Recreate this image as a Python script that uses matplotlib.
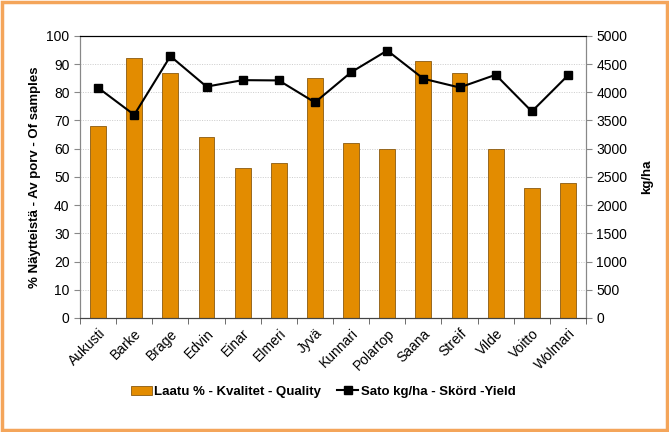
import numpy as np
import matplotlib.pyplot as plt
from matplotlib.patches import Rectangle

plt.rcParams['font.family'] = ['Liberation Sans', 'DejaVu Sans']

lajikkeet = ["Aukusti", "Barke", "Brage", "Edvin", "Einar", "Elmeri", "Jyvä",
             "Kunnari", "Polartop", "Saana", "Streif", "Vilde", "Voitto", "Wolmari"]
laatu = [68, 92, 87, 64, 53, 55, 85, 62, 60, 91, 87, 60, 46, 48]
sato = [4080, 3600, 4640, 4100, 4215, 4210, 3820, 4355, 4740, 4240, 4085, 4310, 3660, 4300]

fig = plt.figure(figsize=(6.69, 4.32), dpi=100)
fig.patches.append(Rectangle((0.003, 0.004), 0.994, 0.992, transform=fig.transFigure,
                             fill=False, edgecolor="#F4A55A", linewidth=2.5))
ax = fig.add_axes([0.1196, 0.264, 0.7564, 0.653])
x = np.arange(len(lajikkeet))

ax.bar(x, laatu, width=0.44, color="#E38C00", edgecolor="#8A5A10", linewidth=0.6,
       label="Laatu % - Kvalitet - Quality", zorder=2)
ax.set_xlim(-0.5, len(lajikkeet) - 0.5)
ax.set_ylim(0, 100)
ax.set_yticks(range(0, 101, 10))
ax.yaxis.grid(True, linestyle=(0, (1.5, 2)), color="#BBBBBB", linewidth=0.5, zorder=0)
ax.set_xticks(x)
ax.set_xticklabels(lajikkeet, rotation=45, ha="right", rotation_mode="anchor", fontsize=10)
ax.set_xticks(np.arange(-0.5, len(lajikkeet)), minor=True)
ax.tick_params(axis="x", which="major", length=0, pad=6)
ax.tick_params(axis="x", which="minor", length=4, color="#555555")
ax.tick_params(axis="y", labelsize=10, length=4, color="#888888")
ax.set_ylabel("% Näytteistä - Av porv - Of samples", fontsize=9.5, fontweight="bold")

ax2 = ax.twinx()
ax2.plot(x, sato, color="black", marker="s", markersize=6, linewidth=1.5,
         label="Sato kg/ha - Skörd -Yield", zorder=3)
ax2.set_ylim(0, 5000)
ax2.set_yticks(range(0, 5001, 500))
ax2.tick_params(axis="y", labelsize=10, length=4, color="#888888")
ax2.set_ylabel("kg/ha", fontsize=9.5, fontweight="bold", labelpad=10)

for a in (ax, ax2):
    a.spines["left"].set_color("#888888")
    a.spines["right"].set_color("#888888")
    a.spines["top"].set_color("black")
    a.spines["bottom"].set_color("#444444")

h1, l1 = ax.get_legend_handles_labels()
h2, l2 = ax2.get_legend_handles_labels()
fig.legend(h1 + h2, l1 + l2, loc="center", bbox_to_anchor=(0.483, 0.093), ncol=2,
           frameon=False, prop={"size": 9.5, "weight": "bold"},
           handlelength=1.6, handletextpad=0.2, columnspacing=1.2)

plt.savefig("out.png", dpi=100)
